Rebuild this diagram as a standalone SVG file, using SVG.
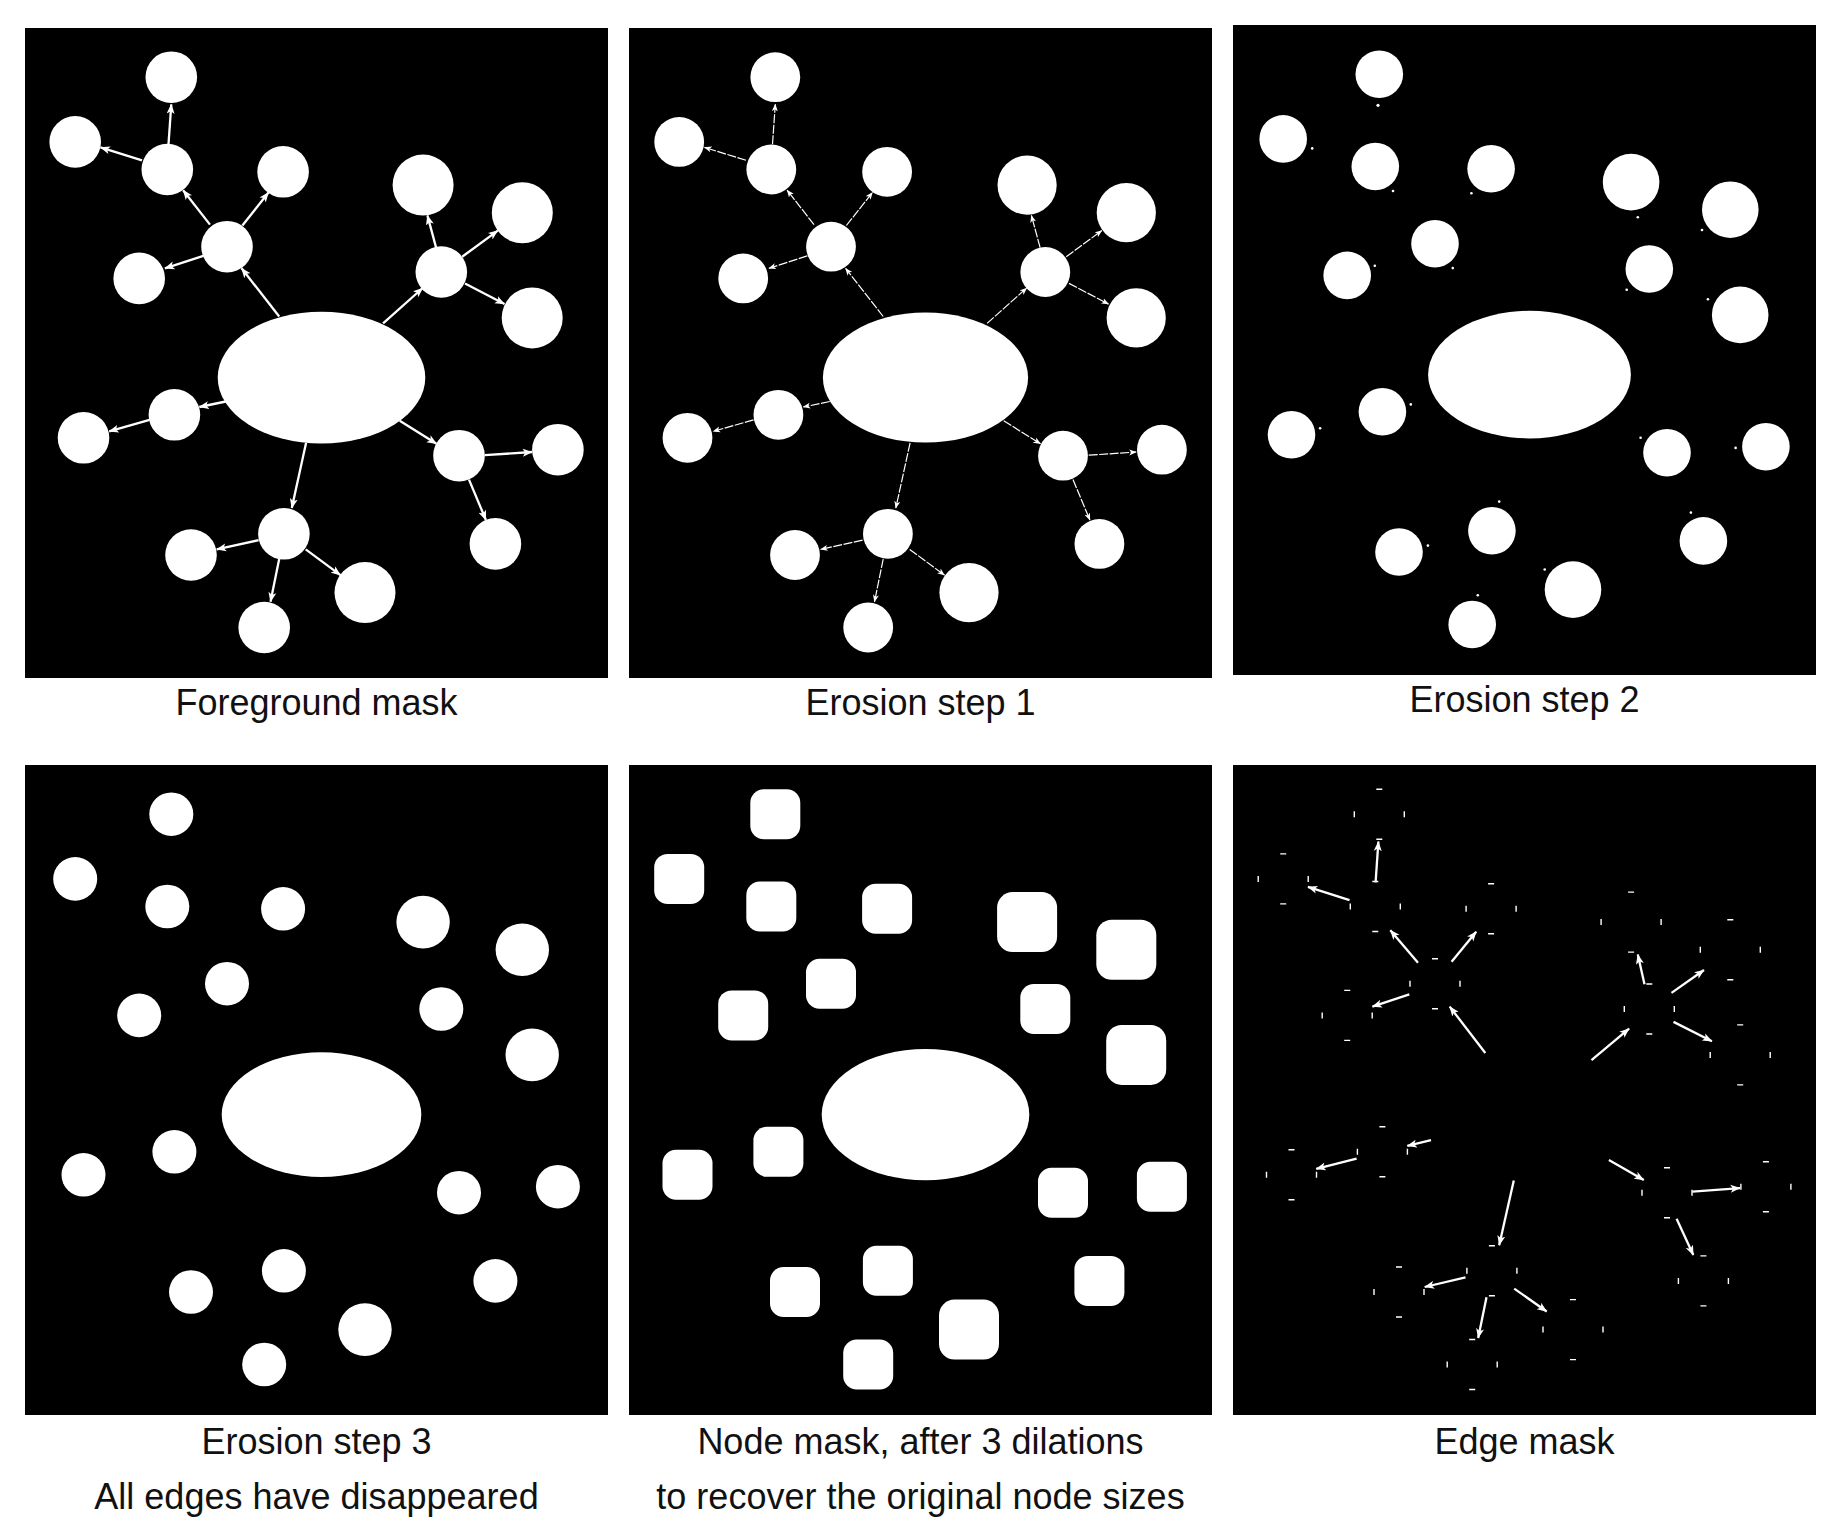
<svg xmlns="http://www.w3.org/2000/svg" xmlns:xlink="http://www.w3.org/1999/xlink" width="1841" height="1540" viewBox="0 0 1841 1540">
<style>
.bg{fill:#000}
.nd{fill:#fff}
.cap{font-family:"Liberation Sans",Arial,sans-serif;font-size:36px;fill:#111;text-anchor:middle}
.e1{stroke:#fff;stroke-width:2.3;fill:none;marker-end:url(#ah)}
.e2{stroke:#fff;stroke-width:1.2;fill:none;stroke-dasharray:9 1.5;marker-end:url(#ah2)}
.tk{stroke:#fff;stroke-width:1.4;fill:none}
</style>
<defs>
<marker id="ah" markerUnits="userSpaceOnUse" markerWidth="11" markerHeight="9" refX="9.5" refY="4.5" orient="auto">
<path d="M0,0.5 L10,4.5 L0,8.5 L2.5,4.5 Z" fill="#fff"/>
</marker>
<marker id="ah2" markerUnits="userSpaceOnUse" markerWidth="8" markerHeight="7" refX="7" refY="3.5" orient="auto">
<path d="M0,0.5 L7.5,3.5 L0,6.5 L2,3.5 Z" fill="#fff"/>
</marker>
</defs>
<rect width="1841" height="1540" fill="#fff"/>

<!-- Panel 1: Foreground mask -->
<g id="panel1">
<rect class="bg" x="25" y="28" width="583" height="650"/>
<g id="p1-nodes" class="nd">
<ellipse id="p1-n0" cx="321.5" cy="377.6" rx="103.8" ry="65.9"/>
<g id="p1-n1"><circle cx="171.3" cy="77.2" r="25.8"/></g>
<g id="p1-n2"><circle cx="75.2" cy="141.9" r="25.8"/></g>
<g id="p1-n3"><circle cx="167.3" cy="169.5" r="25.8"/></g>
<g id="p1-n4"><circle cx="283.1" cy="171.8" r="25.8"/></g>
<g id="p1-n5"><circle cx="227" cy="246.7" r="25.8"/></g>
<g id="p1-n6"><circle cx="139.2" cy="278.4" r="25.8"/></g>
<g id="p1-n7"><circle cx="423.1" cy="185.1" r="30.5"/></g>
<g id="p1-n8"><circle cx="522.3" cy="212.7" r="30.5"/></g>
<g id="p1-n9"><circle cx="441.3" cy="272" r="25.8"/></g>
<g id="p1-n10"><circle cx="532.2" cy="317.9" r="30.5"/></g>
<g id="p1-n11"><circle cx="174.4" cy="414.8" r="25.8"/></g>
<g id="p1-n12"><circle cx="83.5" cy="437.8" r="25.8"/></g>
<g id="p1-n13"><circle cx="459" cy="455.7" r="25.8"/></g>
<g id="p1-n14"><circle cx="557.9" cy="449.7" r="25.8"/></g>
<g id="p1-n15"><circle cx="495.4" cy="543.9" r="25.8"/></g>
<g id="p1-n16"><circle cx="283.9" cy="533.8" r="25.8"/></g>
<g id="p1-n17"><circle cx="191" cy="555" r="25.8"/></g>
<g id="p1-n18"><circle cx="365" cy="592.6" r="30.5"/></g>
<g id="p1-n19"><circle cx="264.2" cy="627.5" r="25.8"/></g>
</g>
<g id="p1-edges" class="e1">
<line x1="279.2" y1="316.5" x2="241.6" y2="268.3"/>
<line x1="210" y1="224.6" x2="183.1" y2="190.2"/>
<line x1="242.4" y1="225.5" x2="268.5" y2="192.5"/>
<line x1="203.3" y1="255.9" x2="164.9" y2="268.3"/>
<line x1="168.5" y1="144.2" x2="171.3" y2="104.3"/>
<line x1="142" y1="160.3" x2="100.5" y2="147.4"/>
<line x1="383.1" y1="323.4" x2="422.7" y2="288"/>
<line x1="436.1" y1="247.6" x2="427.4" y2="215.4"/>
<line x1="462.2" y1="256.8" x2="497.8" y2="230.6"/>
<line x1="465" y1="283.4" x2="504.5" y2="304.1"/>
<line x1="225.8" y1="401.5" x2="199.3" y2="407"/>
<line x1="149.5" y1="419.9" x2="109.2" y2="431.4"/>
<line x1="399.7" y1="420.8" x2="436.5" y2="443.8"/>
<line x1="484.7" y1="455.2" x2="532.2" y2="452"/>
<line x1="469" y1="479.6" x2="485.9" y2="520"/>
<line x1="306.1" y1="442.8" x2="291.8" y2="508.1"/>
<line x1="258.6" y1="540.2" x2="216.7" y2="549.4"/>
<line x1="305.7" y1="549.4" x2="340.5" y2="575.1"/>
<line x1="279.2" y1="559.1" x2="270.5" y2="601.8"/>
</g>
<text class="cap" x="316.5" y="715">Foreground mask</text>
</g>

<!-- Panel 2: Erosion step 1 -->
<g id="panel2">
<rect class="bg" x="629" y="28" width="583" height="650"/>
<g transform="translate(604,0)">
<g id="p2-nodes" class="nd">
<ellipse id="p2-n0" cx="321.5" cy="377.6" rx="102.6" ry="65"/>
<g id="p2-n1"><circle cx="171.3" cy="77.2" r="24.9"/></g>
<g id="p2-n2"><circle cx="75.2" cy="141.9" r="24.9"/></g>
<g id="p2-n3"><circle cx="167.3" cy="169.5" r="24.9"/></g>
<g id="p2-n4"><circle cx="283.1" cy="171.8" r="24.9"/></g>
<g id="p2-n5"><circle cx="227" cy="246.7" r="24.9"/></g>
<g id="p2-n6"><circle cx="139.2" cy="278.4" r="24.9"/></g>
<g id="p2-n7"><circle cx="423.1" cy="185.1" r="29.6"/></g>
<g id="p2-n8"><circle cx="522.3" cy="212.7" r="29.6"/></g>
<g id="p2-n9"><circle cx="441.3" cy="272" r="24.9"/></g>
<g id="p2-n10"><circle cx="532.2" cy="317.9" r="29.6"/></g>
<g id="p2-n11"><circle cx="174.4" cy="414.8" r="24.9"/></g>
<g id="p2-n12"><circle cx="83.5" cy="437.8" r="24.9"/></g>
<g id="p2-n13"><circle cx="459" cy="455.7" r="24.9"/></g>
<g id="p2-n14"><circle cx="557.9" cy="449.7" r="24.9"/></g>
<g id="p2-n15"><circle cx="495.4" cy="543.9" r="24.9"/></g>
<g id="p2-n16"><circle cx="283.9" cy="533.8" r="24.9"/></g>
<g id="p2-n17"><circle cx="191" cy="555" r="24.9"/></g>
<g id="p2-n18"><circle cx="365" cy="592.6" r="29.6"/></g>
<g id="p2-n19"><circle cx="264.2" cy="627.5" r="24.9"/></g>
</g>
<g id="p2-edges" class="e2">
<line x1="279.2" y1="316.5" x2="241.6" y2="268.3"/>
<line x1="210" y1="224.6" x2="183.1" y2="190.2"/>
<line x1="242.4" y1="225.5" x2="268.5" y2="192.5"/>
<line x1="203.3" y1="255.9" x2="164.9" y2="268.3"/>
<line x1="168.5" y1="144.2" x2="171.3" y2="104.3"/>
<line x1="142" y1="160.3" x2="100.5" y2="147.4"/>
<line x1="383.1" y1="323.4" x2="422.7" y2="288"/>
<line x1="436.1" y1="247.6" x2="427.4" y2="215.4"/>
<line x1="462.2" y1="256.8" x2="497.8" y2="230.6"/>
<line x1="465" y1="283.4" x2="504.5" y2="304.1"/>
<line x1="225.8" y1="401.5" x2="199.3" y2="407"/>
<line x1="149.5" y1="419.9" x2="109.2" y2="431.4"/>
<line x1="399.7" y1="420.8" x2="436.5" y2="443.8"/>
<line x1="484.7" y1="455.2" x2="532.2" y2="452"/>
<line x1="469" y1="479.6" x2="485.9" y2="520"/>
<line x1="306.1" y1="442.8" x2="291.8" y2="508.1"/>
<line x1="258.6" y1="540.2" x2="216.7" y2="549.4"/>
<line x1="305.7" y1="549.4" x2="340.5" y2="575.1"/>
<line x1="279.2" y1="559.1" x2="270.5" y2="601.8"/>
</g>
</g>
<text class="cap" x="920.5" y="715">Erosion step 1</text>
</g>

<!-- Panel 3: Erosion step 2 -->
<g id="panel3">
<rect class="bg" x="1233" y="25" width="583" height="650"/>
<g transform="translate(1208,-3)">
<g id="p3-nodes" class="nd">
<ellipse id="p3-n0" cx="321.5" cy="377.6" rx="101.4" ry="63.8"/>
<g id="p3-n1"><circle cx="171.3" cy="77.2" r="23.8"/></g>
<g id="p3-n2"><circle cx="75.2" cy="141.9" r="23.8"/></g>
<g id="p3-n3"><circle cx="167.3" cy="169.5" r="23.8"/></g>
<g id="p3-n4"><circle cx="283.1" cy="171.8" r="23.8"/></g>
<g id="p3-n5"><circle cx="227" cy="246.7" r="23.8"/></g>
<g id="p3-n6"><circle cx="139.2" cy="278.4" r="23.8"/></g>
<g id="p3-n7"><circle cx="423.1" cy="185.1" r="28.3"/></g>
<g id="p3-n8"><circle cx="522.3" cy="212.7" r="28.3"/></g>
<g id="p3-n9"><circle cx="441.3" cy="272" r="23.8"/></g>
<g id="p3-n10"><circle cx="532.2" cy="317.9" r="28.3"/></g>
<g id="p3-n11"><circle cx="174.4" cy="414.8" r="23.8"/></g>
<g id="p3-n12"><circle cx="83.5" cy="437.8" r="23.8"/></g>
<g id="p3-n13"><circle cx="459" cy="455.7" r="23.8"/></g>
<g id="p3-n14"><circle cx="557.9" cy="449.7" r="23.8"/></g>
<g id="p3-n15"><circle cx="495.4" cy="543.9" r="23.8"/></g>
<g id="p3-n16"><circle cx="283.9" cy="533.8" r="23.8"/></g>
<g id="p3-n17"><circle cx="191" cy="555" r="23.8"/></g>
<g id="p3-n18"><circle cx="365" cy="592.6" r="28.3"/></g>
<g id="p3-n19"><circle cx="264.2" cy="627.5" r="23.8"/></g>
</g>
<g id="p3-specks" class="nd">
<circle cx="170" cy="108.3" r="1.6"/>
<circle cx="104.2" cy="151.4" r="1.3"/>
<circle cx="185" cy="194" r="1.3"/>
<circle cx="263.4" cy="196.3" r="1.3"/>
<circle cx="166.8" cy="268.8" r="1.3"/>
<circle cx="244.8" cy="271.1" r="1.3"/>
<circle cx="429.8" cy="220.2" r="1.3"/>
<circle cx="494" cy="233" r="1.3"/>
<circle cx="418.7" cy="292.7" r="1.3"/>
<circle cx="499.9" cy="302.3" r="1.3"/>
<circle cx="202.8" cy="407.4" r="1.3"/>
<circle cx="112.1" cy="431.2" r="1.3"/>
<circle cx="432.6" cy="440.8" r="1.3"/>
<circle cx="527.6" cy="450.9" r="1.3"/>
<circle cx="291.2" cy="504.6" r="1.3"/>
<circle cx="219.9" cy="548.6" r="1.3"/>
<circle cx="482.9" cy="515.6" r="1.3"/>
<circle cx="336.7" cy="572.5" r="1.3"/>
<circle cx="269.8" cy="598.2" r="1.3"/>
</g>
</g>
<text class="cap" x="1524.5" y="712">Erosion step 2</text>
</g>

<!-- Panel 4: Erosion step 3 -->
<g id="panel4">
<rect class="bg" x="25" y="765" width="583" height="650"/>
<g transform="translate(0,737)">
<g id="p4-nodes" class="nd">
<ellipse id="p4-n0" cx="321.5" cy="377.6" rx="99.8" ry="62.3"/>
<g id="p4-n1"><ellipse cx="171.3" cy="77.2" rx="22" ry="21.8"/></g>
<g id="p4-n2"><ellipse cx="75.2" cy="141.9" rx="22" ry="21.8"/></g>
<g id="p4-n3"><ellipse cx="167.3" cy="169.5" rx="22" ry="21.8"/></g>
<g id="p4-n4"><ellipse cx="283.1" cy="171.8" rx="22" ry="21.8"/></g>
<g id="p4-n5"><ellipse cx="227" cy="246.7" rx="22" ry="21.8"/></g>
<g id="p4-n6"><ellipse cx="139.2" cy="278.4" rx="22" ry="21.8"/></g>
<g id="p4-n7"><ellipse cx="423.1" cy="185.1" rx="26.7" ry="26.3"/></g>
<g id="p4-n8"><ellipse cx="522.3" cy="212.7" rx="26.7" ry="26.3"/></g>
<g id="p4-n9"><ellipse cx="441.3" cy="272" rx="22" ry="21.8"/></g>
<g id="p4-n10"><ellipse cx="532.2" cy="317.9" rx="26.7" ry="26.3"/></g>
<g id="p4-n11"><ellipse cx="174.4" cy="414.8" rx="22" ry="21.8"/></g>
<g id="p4-n12"><ellipse cx="83.5" cy="437.8" rx="22" ry="21.8"/></g>
<g id="p4-n13"><ellipse cx="459" cy="455.7" rx="22" ry="21.8"/></g>
<g id="p4-n14"><ellipse cx="557.9" cy="449.7" rx="22" ry="21.8"/></g>
<g id="p4-n15"><ellipse cx="495.4" cy="543.9" rx="22" ry="21.8"/></g>
<g id="p4-n16"><ellipse cx="283.9" cy="533.8" rx="22" ry="21.8"/></g>
<g id="p4-n17"><ellipse cx="191" cy="555" rx="22" ry="21.8"/></g>
<g id="p4-n18"><ellipse cx="365" cy="592.6" rx="26.7" ry="26.3"/></g>
<g id="p4-n19"><ellipse cx="264.2" cy="627.5" rx="22" ry="21.8"/></g>
</g>
</g>
<text class="cap" x="316.5" y="1454">Erosion step 3</text>
<text class="cap" x="316.5" y="1509">All edges have disappeared</text>
</g>

<!-- Panel 5: Node mask -->
<g id="panel5">
<rect class="bg" x="629" y="765" width="583" height="650"/>
<g transform="translate(604,737)">
<g id="p5-nodes" class="nd">
<ellipse id="p5-n0" cx="321.5" cy="377.6" rx="103.8" ry="65.6"/>
<g id="p5-n1"><rect x="146.3" y="52.2" width="50" height="50" rx="13.5"/></g>
<g id="p5-n2"><rect x="50.2" y="116.9" width="50" height="50" rx="13.5"/></g>
<g id="p5-n3"><rect x="142.3" y="144.5" width="50" height="50" rx="13.5"/></g>
<g id="p5-n4"><rect x="258.1" y="146.8" width="50" height="50" rx="13.5"/></g>
<g id="p5-n5"><rect x="202" y="221.7" width="50" height="50" rx="13.5"/></g>
<g id="p5-n6"><rect x="114.2" y="253.4" width="50" height="50" rx="13.5"/></g>
<g id="p5-n7"><rect x="393.1" y="155.1" width="60" height="60" rx="15.5"/></g>
<g id="p5-n8"><rect x="492.3" y="182.7" width="60" height="60" rx="15.5"/></g>
<g id="p5-n9"><rect x="416.3" y="247" width="50" height="50" rx="13.5"/></g>
<g id="p5-n10"><rect x="502.2" y="287.9" width="60" height="60" rx="15.5"/></g>
<g id="p5-n11"><rect x="149.4" y="389.8" width="50" height="50" rx="13.5"/></g>
<g id="p5-n12"><rect x="58.5" y="412.8" width="50" height="50" rx="13.5"/></g>
<g id="p5-n13"><rect x="434" y="430.7" width="50" height="50" rx="13.5"/></g>
<g id="p5-n14"><rect x="532.9" y="424.7" width="50" height="50" rx="13.5"/></g>
<g id="p5-n15"><rect x="470.4" y="518.9" width="50" height="50" rx="13.5"/></g>
<g id="p5-n16"><rect x="258.9" y="508.8" width="50" height="50" rx="13.5"/></g>
<g id="p5-n17"><rect x="166" y="530" width="50" height="50" rx="13.5"/></g>
<g id="p5-n18"><rect x="335" y="562.6" width="60" height="60" rx="15.5"/></g>
<g id="p5-n19"><rect x="239.2" y="602.5" width="50" height="50" rx="13.5"/></g>
</g>
</g>
<text class="cap" x="920.5" y="1454">Node mask, after 3 dilations</text>
<text class="cap" x="920.5" y="1509">to recover the original node sizes</text>
</g>

<!-- Panel 6: Edge mask -->
<g id="panel6">
<rect class="bg" x="1233" y="765" width="583" height="650"/>
<g transform="translate(1208,737)">
<g id="p6-residue" class="tk">
<path d="M168.3,52.2h6M168.3,102.2h6M146.3,74.2v6M196.3,74.2v6"/>
<path d="M72.2,116.9h6M72.2,166.9h6M50.2,138.9v6M100.2,138.9v6"/>
<path d="M164.3,144.5h6M164.3,194.5h6M142.3,166.5v6M192.3,166.5v6"/>
<path d="M280.1,146.8h6M280.1,196.8h6M258.1,168.8v6M308.1,168.8v6"/>
<path d="M224,221.7h6M224,271.7h6M202,243.7v6M252,243.7v6"/>
<path d="M136.2,253.4h6M136.2,303.4h6M114.2,275.4v6M164.2,275.4v6"/>
<path d="M420.1,155.1h6M420.1,215.1h6M393.1,182.1v6M453.1,182.1v6"/>
<path d="M519.3,182.7h6M519.3,242.7h6M492.3,209.7v6M552.3,209.7v6"/>
<path d="M438.3,247h6M438.3,297h6M416.3,269v6M466.3,269v6"/>
<path d="M529.2,287.9h6M529.2,347.9h6M502.2,314.9v6M562.2,314.9v6"/>
<path d="M171.4,389.8h6M171.4,439.8h6M149.4,411.8v6M199.4,411.8v6"/>
<path d="M80.5,412.8h6M80.5,462.8h6M58.5,434.8v6M108.5,434.8v6"/>
<path d="M456,430.7h6M456,480.7h6M434,452.7v6M484,452.7v6"/>
<path d="M554.9,424.7h6M554.9,474.7h6M532.9,446.7v6M582.9,446.7v6"/>
<path d="M492.4,518.9h6M492.4,568.9h6M470.4,540.9v6M520.4,540.9v6"/>
<path d="M280.9,508.8h6M280.9,558.8h6M258.9,530.8v6M308.9,530.8v6"/>
<path d="M188,530h6M188,580h6M166,552v6M216,552v6"/>
<path d="M362,562.6h6M362,622.6h6M335,589.6v6M395,589.6v6"/>
<path d="M261.2,602.5h6M261.2,652.5h6M239.2,624.5v6M289.2,624.5v6"/>
</g>
<g id="p6-edges" class="e1">
<line x1="277.3" y1="316" x2="241.7" y2="269.6"/>
<line x1="210" y1="225.8" x2="182.3" y2="193.2"/>
<line x1="243.6" y1="224.8" x2="268.2" y2="194.7"/>
<line x1="201.3" y1="257.4" x2="164.4" y2="269.6"/>
<line x1="167.6" y1="145.3" x2="170.4" y2="104.5"/>
<line x1="141.5" y1="163.1" x2="99.9" y2="149.8"/>
<line x1="383.5" y1="323.2" x2="421.1" y2="291.6"/>
<line x1="436.5" y1="247.2" x2="429.8" y2="217.6"/>
<line x1="463.5" y1="255.9" x2="496" y2="233"/>
<line x1="465.5" y1="284.9" x2="503.9" y2="304.3"/>
<line x1="223" y1="403.2" x2="199.3" y2="408.8"/>
<line x1="148.6" y1="421.6" x2="108.2" y2="431.8"/>
<line x1="400.9" y1="423.1" x2="435.8" y2="443"/>
<line x1="484.5" y1="454.7" x2="532" y2="451.1"/>
<line x1="468.6" y1="481.7" x2="485.3" y2="518"/>
<line x1="305.8" y1="443.5" x2="291.2" y2="508.2"/>
<line x1="257.5" y1="540.3" x2="216.7" y2="550"/>
<line x1="306.2" y1="551.6" x2="338.7" y2="574.5"/>
<line x1="278.5" y1="560.2" x2="270.2" y2="601"/>
</g>
</g>
<text class="cap" x="1524.5" y="1454">Edge mask</text>
</g>
</svg>
